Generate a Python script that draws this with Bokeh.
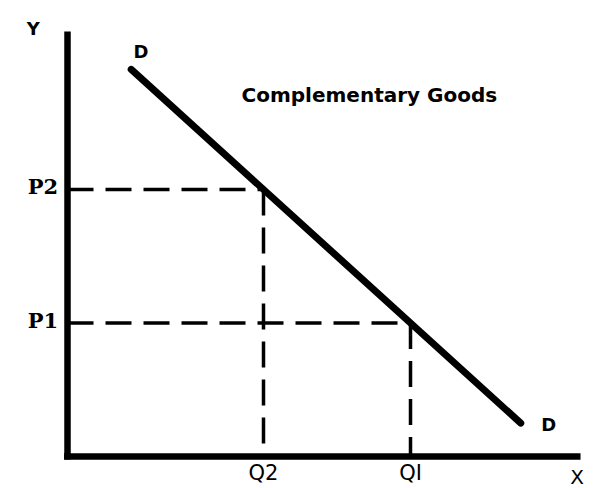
from bokeh.plotting import figure
from bokeh.models import Range1d
from bokeh.core.properties import value
from bokeh.embed import file_html
from bokeh.resources import INLINE

# ---- data ----
q_labels = ["Q2", "QI"]
q_values = [4, 7]
p_labels = ["P2", "P1"]
p_values = [6, 3]
demand_q = [1.3, 9.25]
demand_p = [8.7, 0.75]
title_text = "Complementary Goods"

# ---- layout (pixel mapping) ----
W, H = 603, 488
ox, oy = 67, 456          # origin position inside the figure (from top-left)
sx, sy = 49.0, 44.5       # pixels per unit

p = figure(width=W, height=H, output_backend="svg", toolbar_location=None,
           min_border=0, x_axis_type=None, y_axis_type=None)
p.x_range = Range1d(-ox / sx, (W - ox) / sx)
p.y_range = Range1d(-(H - oy) / sy, oy / sy)
p.outline_line_color = None
p.grid.visible = False
p.background_fill_color = "white"

ymax = 9.55
xmax = 10.47
# axes
p.line([0, 0], [-0.07, ymax], line_width=6.5, line_color="black", line_cap="butt")
p.line([-0.07, xmax], [0, 0], line_width=6.5, line_color="black", line_cap="butt")

# dashed guides
p.segment(x0=[0] * len(p_values), y0=p_values, x1=q_values, y1=p_values,
          line_width=3.5, line_color="black", line_dash="26 12")
p.segment(x0=q_values, y0=p_values, x1=q_values, y1=[0] * len(q_values),
          line_width=3.5, line_color="black", line_dash="26 12")

# demand curve
p.line(demand_q, demand_p, line_width=7, line_color="black", line_cap="round")

# labels
p.text(x=[-0.19] * len(p_values), y=[v + 0.06 for v in p_values], text=p_labels,
       text_font=value("DejaVu Serif"), text_font_style="bold", text_font_size="21px",
       text_align="right", text_baseline="middle", text_color="black")
p.text(x=q_values, y=[-0.11] * len(q_values), text=q_labels,
       text_font=value("DejaVu Sans"), text_font_size="21px",
       text_align="center", text_baseline="top", text_color="black")
p.text(x=[-0.7], y=[9.62], text=["Y"], text_font=value("DejaVu Sans"), text_font_style="bold",
       text_font_size="18px", text_align="center", text_baseline="middle")
p.text(x=[10.4], y=[-0.47], text=["X"], text_font=value("DejaVu Sans"),
       text_font_size="20px", text_align="center", text_baseline="middle")
p.text(x=[demand_q[0] + 0.2], y=[demand_p[0] + 0.4], text=["D"], text_font=value("DejaVu Sans"),
       text_font_style="bold", text_font_size="18px", text_align="center", text_baseline="middle")
p.text(x=[demand_q[1] + 0.57], y=[demand_p[1] - 0.02], text=["D"], text_font=value("DejaVu Sans"),
       text_font_style="bold", text_font_size="18px", text_align="center", text_baseline="middle")
p.text(x=[6.16], y=[8.13], text=[title_text], text_font=value("DejaVu Sans"),
       text_font_style="bold", text_font_size="20px", text_align="center", text_baseline="middle")

open("out.html", "w").write(file_html(p, INLINE))
